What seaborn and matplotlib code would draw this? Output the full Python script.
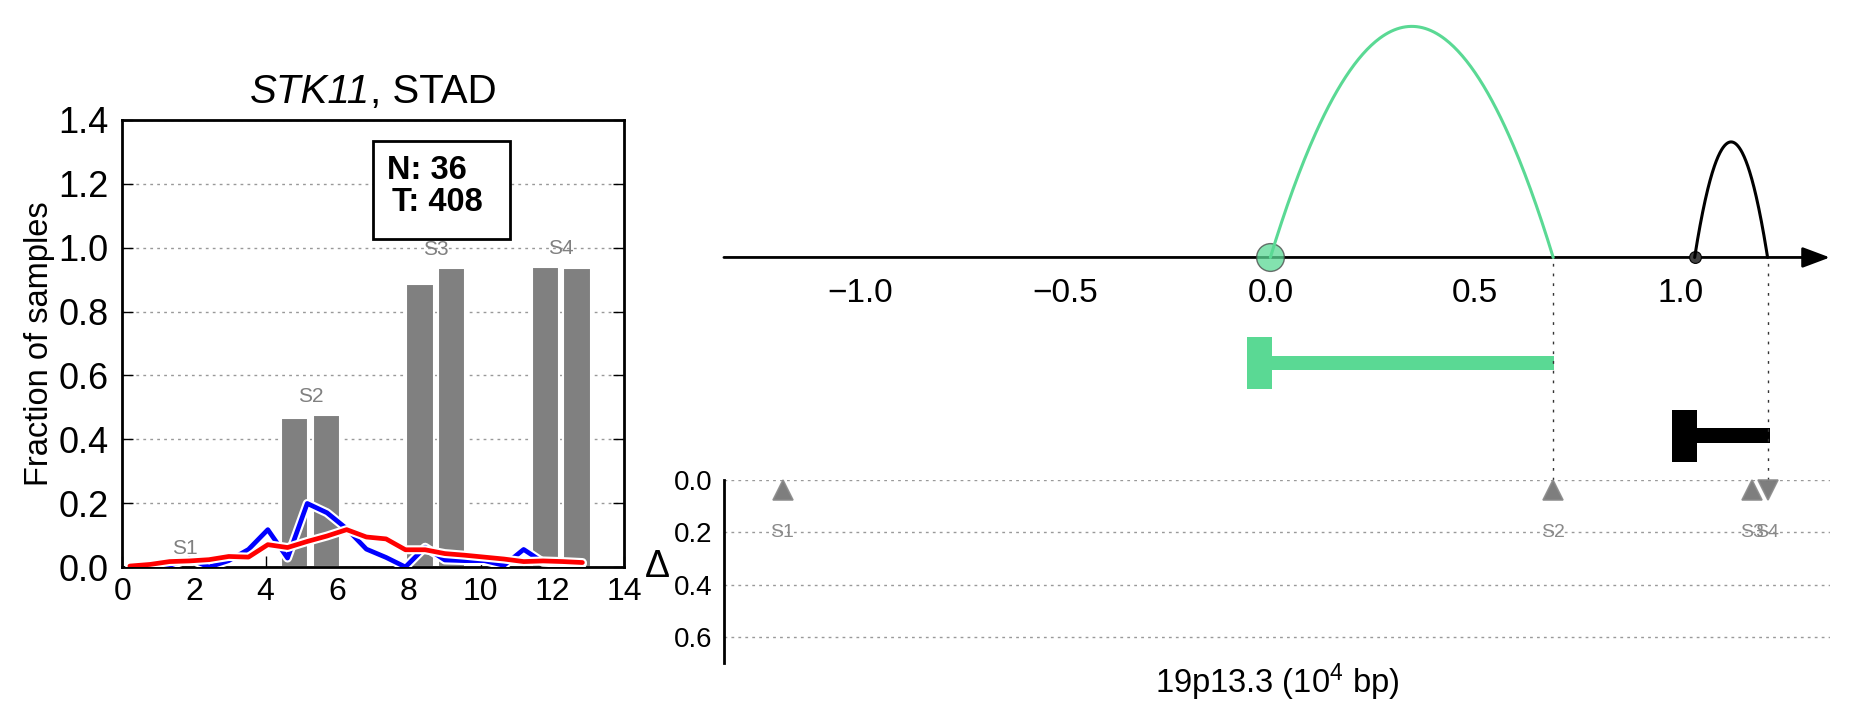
import numpy as np
import pandas as pd
import matplotlib
matplotlib.use("Agg")
import matplotlib.pyplot as plt
import matplotlib.patheffects as pe
from matplotlib.patches import Rectangle
import seaborn as sns

# ── Data ────────────────────────────────────────────────
# left panel: fraction of samples along the segment bins
bin_x = [0.21, 0.77, 1.32, 1.87, 2.42, 2.97, 3.52, 4.06, 4.61, 5.16, 5.71, 6.26,
         6.81, 7.36, 7.90, 8.45, 9.00, 9.55, 10.10, 10.65, 11.20, 11.74, 12.29, 12.84]
normal_line = [0.0, 0.0, 0.005, 0.025, 0.0, 0.02, 0.055, 0.117, 0.028, 0.199, 0.17, 0.12,
               0.056, 0.03, 0.0, 0.062, 0.022, 0.02, 0.02, 0.005, 0.055, 0.015, 0.012, 0.01]
tumor_line = [0.003, 0.008, 0.017, 0.019, 0.023, 0.033, 0.031, 0.070, 0.061, 0.080, 0.097, 0.117,
              0.094, 0.088, 0.054, 0.054, 0.042, 0.037, 0.031, 0.025, 0.017, 0.019, 0.017, 0.014]
seg_labels = ["S1", "S2", "S3", "S4"]
seg_centers = [1.75, 5.25, 8.75, 12.25]
normal_frac = [0.0, 0.466, 0.885, 0.94]
tumor_frac = [0.0, 0.477, 0.935, 0.935]
n_normal, n_tumor = 36, 408
gene, cancer = "STK11", "STAD"

# right panel: arcs between breakpoints (10^4 bp) and genes
arc_start = [0.0, 1.035]
arc_end = [0.69, 1.213]
arc_height = [1.0, 0.5]
arc_colors = ["#5ad994", "black"]
gene_start = [0.003, 1.04]
gene_end = [0.692, 1.218]
gene_level = [-0.457, -0.771]
seg_pos = [-1.19, 0.69, 1.175, 1.213]
seg_delta = [0.037, 0.037, 0.037, 0.037]
seg_marker = ["^", "^", "^", "v"]

# ── Style ───────────────────────────────────────────────
sns.set_style("white")
plt.rcParams["font.family"] = ["Liberation Sans", "DejaVu Sans"]
plt.rcParams["mathtext.fontset"] = "custom"
plt.rcParams["mathtext.rm"] = "Liberation Sans"
plt.rcParams["mathtext.it"] = "Liberation Sans:italic"
for key in ["text.color", "axes.labelcolor", "xtick.color", "ytick.color"]:
    plt.rcParams[key] = "black"

fig = plt.figure(figsize=(18.51, 7.18), dpi=100)
fig.patch.set_facecolor("white")

GRID = dict(color="#999999", lw=1, ls=(0, (2, 3)))

# ── Left panel ──────────────────────────────────────────
ax = fig.add_axes([0.0661, 0.2103, 0.2710, 0.6226])
off = 0.44
bars = pd.DataFrame({
    "pos": [c - off for c in seg_centers] + [c + off for c in seg_centers],
    "frac": normal_frac + tumor_frac,
})
sns.barplot(data=bars, x="pos", y="frac", native_scale=True, width=0.864,
            color="#808080", saturation=1, edgecolor="white", linewidth=1.5,
            errorbar=None, ax=ax, zorder=2)

outline = [pe.Stroke(linewidth=6.5, foreground="white"), pe.Normal()]
sns.lineplot(x=bin_x, y=normal_line, color="blue", lw=3.4, ax=ax, zorder=3,
             path_effects=outline)
sns.lineplot(x=bin_x, y=tumor_line, color="red", lw=3.4, ax=ax, zorder=4,
             path_effects=outline)

for lab, c, n, t in zip(seg_labels, seg_centers, normal_frac, tumor_frac):
    ax.text(c, max(n, t) + 0.058, lab, color="#808080", fontsize=15,
            ha="center", va="center", zorder=5)

ax.set_xlim(0, 14)
ax.set_ylim(0, 1.4)
ax.set_xticks(np.arange(0, 15, 2))
ax.set_yticks(np.arange(0, 1.41, 0.2))
ax.set_yticklabels([f"{v:.1f}" for v in np.arange(0, 1.41, 0.2)])
ax.set_xlabel("")
ax.set_ylabel("Fraction of samples", fontsize=23.5, va="center")
ax.yaxis.set_label_coords(-0.165, 0.5)
ax.text(0.493, 1.038, gene, transform=ax.transAxes, fontsize=29, fontstyle="italic",
        ha="right", va="baseline")
ax.text(0.493, 1.038, f", {cancer}", transform=ax.transAxes, fontsize=29,
        ha="left", va="baseline")
ax.yaxis.grid(True, **GRID)
ax.set_axisbelow(True)
for s in ax.spines.values():
    s.set_linewidth(2)
    s.set_color("black")
ax.tick_params(axis="y", direction="in", length=8, width=1, left=True, right=True,
               labelsize=26, pad=10)
ax.tick_params(axis="x", direction="in", length=8, width=1, bottom=True, top=False,
               labelsize=23, pad=7)

ax.add_patch(Rectangle((0.499, 0.733), 0.274, 0.22, transform=ax.transAxes,
                       facecolor="white", edgecolor="black", lw=2, zorder=6))
ax.text(0.528, 0.888, f"N: {n_normal}", transform=ax.transAxes, fontsize=23.5,
        fontweight="bold", ha="left", va="center", zorder=7)
ax.text(0.538, 0.815, f"T: {n_tumor}", transform=ax.transAxes, fontsize=23.5,
        fontweight="bold", ha="left", va="center", zorder=7)

# ── Right top: arcs + genes ─────────────────────────────
XLIM = (-1.333, 1.365)
axt = fig.add_axes([0.3911, 0.3315, 0.5975, 0.6546])
axt.set_xlim(*XLIM)
axt.set_ylim(-0.963, 1.071)
for s in ["top", "right", "left"]:
    axt.spines[s].set_visible(False)
axt.spines["bottom"].set_position(("data", 0))
axt.spines["bottom"].set_visible(False)
axt.set_yticks([])
ticks = [-1.0, -0.5, 0.0, 0.5, 1.0]
axt.set_xticks(ticks)
axt.set_xticklabels([f"{v:.1f}".replace("-", "\u2212") for v in ticks])
axt.tick_params(axis="x", direction="out", length=7, width=0.8, color="#333333",
                labelcolor="black", labelsize=24, pad=8)
axt.annotate("", xy=(XLIM[1], 0), xytext=(XLIM[0], 0), zorder=2,
             arrowprops=dict(arrowstyle="-|>,head_length=1.2,head_width=0.45",
                             mutation_scale=14, lw=2, color="black",
                             shrinkA=0, shrinkB=0))

t = np.linspace(0, 1, 200)
for a, b, h, col in zip(arc_start, arc_end, arc_height, arc_colors):
    axt.plot(a + (b - a) * t, 4 * h * t * (1 - t), color=col, lw=2.2, zorder=4)

axt.plot(arc_start[0], 0, "o", ms=20, mfc=arc_colors[0], mec="#444444",
         mew=1, alpha=0.75, zorder=3)
axt.plot(arc_start[1], 0, "o", ms=8.5, mfc="#404040", mec="black", mew=0.8, zorder=3)

for gs, ge, lv, col in zip(gene_start, gene_end, gene_level, arc_colors):
    axt.barh(lv, ge - gs, left=gs, height=0.064, color=col, lw=0)
    axt.barh(lv, 0.06, left=gs - 0.06, height=0.226, color=col, lw=0)

axt.vlines(arc_end, -0.963, 0, color="#333333", lw=1, ls=(0, (2, 5)), zorder=1)

# ── Right bottom: delta per segment ─────────────────────
axb = fig.add_axes([0.3911, 0.0766, 0.5975, 0.2549])
axb.set_xlim(*XLIM)
axb.set_ylim(0.7, 0)
for s in ["top", "right", "bottom"]:
    axb.spines[s].set_visible(False)
axb.spines["left"].set_linewidth(2)
axb.spines["left"].set_color("black")
axb.set_yticks([0.0, 0.2, 0.4, 0.6])
axb.set_yticklabels(["0.0", "0.2", "0.4", "0.6"])
axb.set_xticks([])
axb.tick_params(axis="y", direction="in", length=8, width=1, labelsize=20, pad=8)
axb.yaxis.grid(True, **GRID)
axb.set_axisbelow(True)

for x, d, m, lab in zip(seg_pos, seg_delta, seg_marker, seg_labels):
    axb.plot(x, d, m, ms=14, mfc="#707070", mec="#8a8a8a", mew=1.2, alpha=0.9,
             zorder=3, clip_on=False)
    axb.text(x, 0.2, lab, color="#8a8a8a", fontsize=14, ha="center", va="center", zorder=4)

axb.set_ylabel("\u0394", fontsize=27, rotation=0, ha="center", va="center")
axb.yaxis.set_label_coords(-0.06, 0.525)
axb.set_xlabel("19p13.3 (10$^4$ bp)", fontsize=23.5, va="center")
axb.xaxis.set_label_coords(0.5, -0.104)

fig.savefig("out.png", dpi=100, facecolor="white")
